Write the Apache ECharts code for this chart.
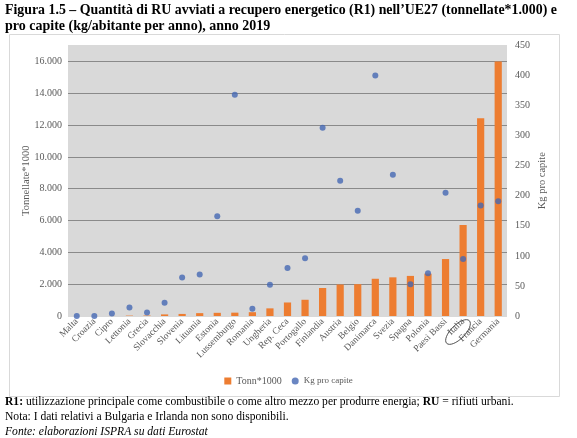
<!DOCTYPE html>
<html><head><meta charset="utf-8">
<script src="https://cdn.jsdelivr.net/npm/echarts@6/dist/echarts.min.js"></script>
<style>html,body{margin:0;padding:0;background:#fff}#c{width:577px;height:438px}</style>
</head><body><div id="c"></div>
<script>
const countries = ['Malta','Croazia','Cipro','Lettonia','Grecia','Slovacchia','Slovenia','Lituania','Estonia','Lussemburgo','Romania','Ungheria','Rep. Ceca','Portogallo','Finlandia','Austria','Belgio','Danimarca','Svezia','Spagna','Polonia','Paesi Bassi','Italia','Francia','Germania'];
const tonn = [0,1,4,25,30,100,130,180,200,210,240,480,850,1020,1760,1980,2000,2340,2430,2520,2660,3580,5720,12430,16000];
const kgProCapite = [0,0,4,14,6,22,64,69,166,368,12,52,80,96,313,225,175,400,235,53,71,205,95,184,191];
const leftTicks = {min:0, max:17000, interval:2000};
const rightTicks = {min:0, max:450, interval:50};

const serif = '"Liberation Serif","DejaVu Serif",serif';
const fmt = v => String(v).replace(/\B(?=(\d{3})+(?!\d))/g,'.');
const chart = echarts.init(document.getElementById('c'));
chart.setOption({
  animation:false,
  backgroundColor:'#fff',
  grid:{left:68,right:70,top:45.5,bottom:122,containLabel:false,outerBoundsMode:'none',show:true,backgroundColor:'#d9d9d9',borderWidth:0},
  legend:{top:371,left:'center',itemWidth:7,itemHeight:7,itemGap:10,
    formatter:n => n==='Kg pro capite' ? '{s|'+n+'}' : '{r|'+n+'}',
    textStyle:{fontFamily:serif,fontSize:10,color:'#595959',
      rich:{r:{fontFamily:serif,fontSize:10,color:'#595959'},s:{fontFamily:serif,fontSize:9,color:'#595959'}}},
    data:[{name:'Tonn*1000',icon:'rect'},{name:'Kg pro capite',icon:'circle'}]},
  xAxis:{type:'category',data:countries,boundaryGap:true,
    axisLine:{show:false},axisTick:{show:false},
    axisLabel:{interval:0,rotate:45,margin:4,fontFamily:serif,fontSize:9.5,color:'#595959'}},
  yAxis:[
    {type:'value',min:leftTicks.min,max:leftTicks.max,interval:leftTicks.interval,
     name:'Tonnellate*1000',nameLocation:'middle',nameRotate:90,nameGap:36,nameMoveOverlap:false,
     nameTextStyle:{fontFamily:serif,fontSize:10.5,color:'#595959'},
     axisLine:{show:false},axisTick:{show:false},
     axisLabel:{formatter:fmt,showMaxLabel:false,margin:6,fontFamily:serif,fontSize:10,color:'#595959'},
     splitLine:{show:true,lineStyle:{width:1,color:['#d9d9d9','#8a8a8a','#8a8a8a','#8a8a8a','#8a8a8a','#8a8a8a','#8a8a8a','#8a8a8a','#8a8a8a','#d9d9d9']}}},
    {type:'value',min:rightTicks.min,max:rightTicks.max,interval:rightTicks.interval,
     name:'Kg pro capite',nameLocation:'middle',nameRotate:90,nameGap:30,nameMoveOverlap:false,
     nameTextStyle:{fontFamily:serif,fontSize:10.5,color:'#595959'},
     axisLine:{show:false},axisTick:{show:false},splitLine:{show:false},
     axisLabel:{margin:8,fontFamily:serif,fontSize:10,color:'#595959'}}
  ],
  series:[
    {name:'Tonn*1000',type:'bar',data:tonn,barWidth:'41%',itemStyle:{color:'#ED7D31'},yAxisIndex:0},
    {name:'Kg pro capite',type:'scatter',data:kgProCapite,yAxisIndex:1,symbolSize:6,itemStyle:{color:'#4568b3'},z:5}
  ],
  graphic:[
    {type:'rect',left:7,top:32,z:-10,shape:{width:550,height:362},style:{fill:'none',stroke:'#d9d9d9',lineWidth:1}},
    {type:'text',left:5,top:3,scaleX:0.99,style:{text:'Figura 1.5 – Quantità di RU avviati a recupero energetico (R1) nell’UE27 (tonnellate*1.000) e',font:'bold 14px '+serif,fill:'#000'}},
    {type:'text',left:5,top:19,style:{text:'pro capite (kg/abitante per anno), anno 2019',font:'bold 14px '+serif,fill:'#000'}},
    {type:'text',left:5,top:396,style:{rich:{b:{fontWeight:'bold',fontFamily:serif,fontSize:11.6,fill:'#000'},n:{fontFamily:serif,fontSize:11.6,fill:'#000'}},text:'{b|R1:}{n| utilizzazione principale come combustibile o come altro mezzo per produrre energia; }{b|RU}{n| = rifiuti urbani.}'}},
    {type:'text',left:5,top:411,style:{text:'Nota: I dati relativi a Bulgaria e Irlanda non sono disponibili.',font:'11.6px '+serif,fill:'#000'}},
    {type:'text',left:5,top:425.5,style:{text:'Fonte: elaborazioni ISPRA su dati Eurostat',font:'italic 11.6px '+serif,fill:'#000'}},
    {type:'ellipse',x:458,y:332,rotation:Math.PI/4,shape:{cx:0,cy:0,rx:16,ry:7},style:{fill:'none',stroke:'#333',lineWidth:0.8},z:10}
  ]
});
</script></body></html>
